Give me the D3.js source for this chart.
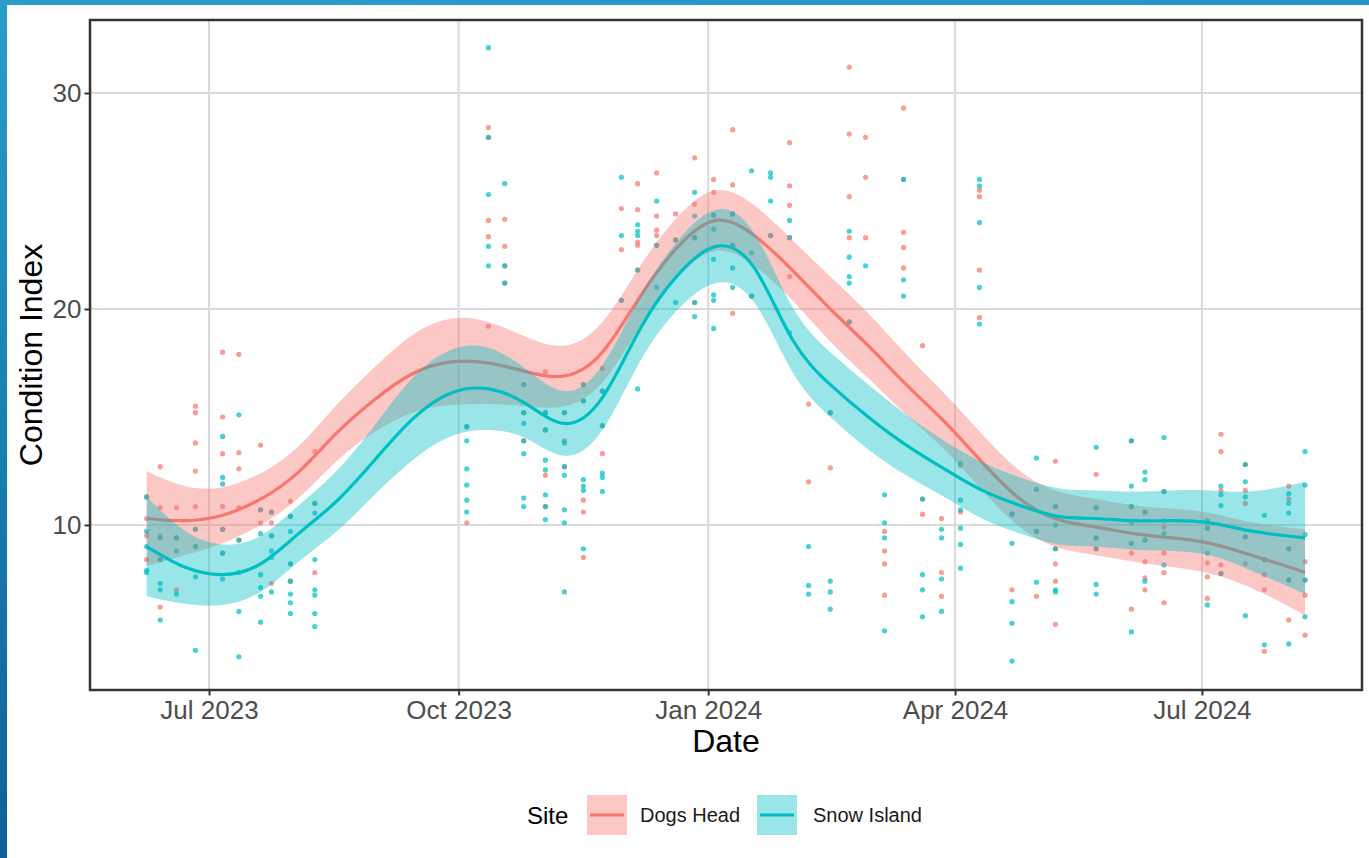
<!DOCTYPE html>
<html>
<head>
<meta charset="utf-8">
<script src="https://cdn.jsdelivr.net/npm/d3@7"></script>
<style>
  html, body { margin: 0; padding: 0; background: #fff; }
  svg { display: block; }
  text { font-family: "Liberation Sans", Arial, sans-serif; }
</style>
</head>
<body>
<svg id="chart" width="1369" height="858"></svg>
<script>
// ---- data -------------------------------------------------------------
const siteNames  = ["Dogs Head", "Snow Island"];
const siteColors = ["#F8766D", "#00BFC4"];

// sampling dates (one column of points per date)
const sampleDates = [
  "2023-06-08","2023-06-13","2023-06-19","2023-06-26","2023-07-06","2023-07-12",
  "2023-07-20","2023-07-24","2023-07-31","2023-08-09",
  "2023-10-04","2023-10-12","2023-10-18","2023-10-25","2023-11-02","2023-11-09",
  "2023-11-16","2023-11-23","2023-11-30","2023-12-06","2023-12-13","2023-12-20",
  "2023-12-27","2024-01-03","2024-01-10","2024-01-17","2024-01-24","2024-01-31",
  "2024-02-07","2024-02-15","2024-02-22","2024-02-28","2024-03-06","2024-03-13",
  "2024-03-20","2024-03-27","2024-04-03","2024-04-10","2024-04-22","2024-05-01",
  "2024-05-08","2024-05-23","2024-06-05","2024-06-10","2024-06-17","2024-07-03",
  "2024-07-08","2024-07-17","2024-07-24","2024-08-02","2024-08-08"
];

// condition index per sampling date, Dogs Head
const dogsHead = [
  [11.3,10.3,9.5,8.4], [12.7,10.8,9.5,8.4,6.2], [10.8,9.4,7.0],
  [15.5,15.2,13.8,12.5,10.85,9.8,9.0], [18.0,15.0,13.3,10.85,9.8,8.7],
  [17.9,13.35,12.6,10.8,9.3], [13.7,10.7,10.1], [10.6,10.1,9.5,7.3],
  [11.1,10.4,8.2,7.4], [13.4,11.0,7.8],
  [14.55,10.1], [28.4,27.95,24.1,23.35,19.2], [24.15,22.9,22.0,21.2],
  [16.5,15.2,13.9], [17.1,15.2,14.4,12.3,10.85], [15.2,13.9,12.7],
  [16.5,15.75,11.15,10.6,8.5], [17.25,16.2,14.6,13.3], [24.65,22.75,20.4],
  [25.8,24.6,23.1,22.95,21.8], [26.3,24.3,23.65,23.4,22.95], [24.4,23.2],
  [27.0,24.85,23.3,20.3], [26.0,25.4,24.35], [28.3,25.75,24.4,22.95,19.8],
  [20.6], [23.4], [27.7,25.7,24.8,23.3,21.5],
  [15.6,12.0], [15.2,12.65], [31.2,28.1,25.2,23.3,19.4], [27.95,26.1,23.3],
  [9.7,8.8,8.2,6.75], [29.3,26.0,23.55,22.85,21.9], [18.3,11.2,10.5],
  [10.3,7.8,6.7], [12.75,10.6], [25.5,25.2,21.8,19.6], [10.5,7.0],
  [11.65,9.7,6.7], [12.95,10.85,8.9,8.2,7.4,5.4], [12.35,10.8,9.4,8.9],
  [13.9,10.85,9.15,8.7,6.1], [10.6,9.3,8.3,7.55,7.0], [11.55,9.9,8.7,7.8,6.4],
  [9.85,8.25,7.6,6.6], [14.2,13.4,11.6,8.15,7.75], [12.8,11.6,11.0,9.45,8.2],
  [8.4,7.7,7.0,4.15], [11.8,11.2,8.9,7.45,5.6], [8.3,7.45,6.75,4.9]
];

// condition index per sampling date, Snow Island
const snowIsland = [
  [11.3,9.7,9.0,7.9,7.8], [9.4,8.4,7.3,7.0,5.6], [9.4,8.8,6.8],
  [9.8,9.0,7.6,4.2], [14.1,12.2,11.9,9.8,8.7,7.5],
  [15.1,9.3,7.8,6.0,3.9], [10.7,9.6,7.7,7.1,6.7,5.5], [10.6,9.5,8.8,8.5,6.9],
  [10.4,9.7,8.2,7.4,6.8,6.4,5.9], [11.0,10.55,8.4,7.0,6.75,5.9,5.3],
  [14.55,13.9,12.6,11.85,11.15,10.6], [32.1,27.95,25.3,22.9,22.0], [25.8,22.0,21.2],
  [16.5,15.2,14.7,13.9,13.3,11.25,10.85], [15.2,14.4,13.0,12.55,11.4,10.85,10.25],
  [15.2,13.8,12.7,12.3,10.7,10.1,6.9],
  [16.5,15.75,12.1,11.8,11.6,8.9], [16.2,14.6,12.4,12.2,11.55], [26.1,23.4,20.4],
  [23.9,23.6,23.4,21.8,16.3], [25.0,22.95,21.0], [23.2,20.3],
  [25.4,24.3,23.3,20.3,19.65], [24.35,23.7,22.3,20.65,20.4,19.1], [24.4,22.95,21.9,21.0],
  [26.4,22.6,20.6], [26.3,26.1,25.0,23.4], [24.1,23.3,18.9],
  [9.0,7.2,6.8], [15.2,7.4,6.9,6.1], [23.6,22.4,21.5,21.2,19.4], [22.0],
  [11.4,10.1,9.4,5.1], [26.0,21.35,20.6], [11.2,7.7,7.0,5.75],
  [9.8,9.4,7.5,6.0], [12.85,11.15,10.7,9.85,9.1,8.0], [26.0,25.7,24.0,21.0,19.3],
  [10.5,9.15,6.45,5.45,3.7],
  [13.1,11.65,9.7,7.35], [10.85,10.0,8.9,7.0,6.9], [13.6,10.8,9.4,8.9,7.25,6.8],
  [13.9,11.8,10.85,10.1,9.15,5.05], [12.45,12.1,10.6,9.3,7.4], [14.05,11.55,10.2,9.6,8.15],
  [10.2,9.85,8.7,6.3], [11.8,11.4,10.9,7.75], [12.8,12.0,11.3,9.45,5.8],
  [10.45,8.4,4.45], [11.45,11.0,10.55,8.9,7.45,4.5], [13.4,11.85,9.55,7.45,5.75]
];

// loess fits and confidence half-widths, sampled along the date axis
const smoothDates = [
  "2023-06-08","2023-06-22","2023-07-06","2023-07-20","2023-08-03","2023-08-17",
  "2023-08-31","2023-09-14","2023-09-28","2023-10-12","2023-10-26","2023-11-09",
  "2023-11-23","2023-12-07","2023-12-21","2024-01-04","2024-01-18","2024-02-01",
  "2024-02-15","2024-02-29","2024-03-14","2024-03-28","2024-04-11","2024-04-25",
  "2024-05-09","2024-05-23","2024-06-06","2024-06-20","2024-07-04","2024-07-18",
  "2024-08-01","2024-08-08"
];
const dogsFit = [
  10.3,10.2,10.45,11.2,12.45,14.25,15.8,17.0,17.55,17.5,17.1,16.9,
  18.0,20.6,22.9,24.1,23.4,21.8,20.0,18.3,16.5,14.8,12.9,11.2,
  10.25,9.9,9.6,9.4,9.15,8.65,8.1,7.8
];
const dogsBand = [
  2.2,1.6,1.3,1.2,1.2,1.3,1.5,1.8,2.0,1.9,1.6,1.4,
  1.4,1.4,1.4,1.4,1.4,1.4,1.5,1.5,1.4,1.3,1.3,1.3,
  1.3,1.3,1.3,1.35,1.4,1.5,1.8,2.0
];
const snowFit = [
  9.0,8.05,7.7,8.2,9.6,11.1,13.0,14.9,16.1,16.3,15.6,14.7,
  15.9,19.1,21.6,22.9,21.9,18.6,16.5,15.0,13.7,12.6,11.6,10.9,
  10.4,10.3,10.2,10.2,10.1,9.75,9.5,9.4
];
const snowBand = [
  2.3,1.7,1.4,1.3,1.3,1.4,1.6,1.9,2.0,1.9,1.6,1.5,
  1.5,1.5,1.6,1.7,1.6,1.5,1.5,1.5,1.4,1.3,1.3,1.3,
  1.3,1.3,1.35,1.4,1.5,1.8,2.3,2.6
];

// axis ticks
const yTicks = [10, 20, 30];
const xTickDates = ["2023-07-01","2023-10-01","2024-01-01","2024-04-01","2024-07-01"];
const xDomain = ["2023-05-18T03:00:00Z", "2024-08-29T00:00:00Z"];
const yDomain = [2.36, 33.38];

// ---- layout -----------------------------------------------------------
const W = 1369, H = 858;
const panel = { left: 90, top: 20, right: 1362, bottom: 690 };
const parse = s => new Date(s.length > 10 ? s : s + "T00:00:00Z");

const svg = d3.select("#chart");

// slide frame behind the figure
const defs = svg.append("defs");
const grad = defs.append("linearGradient").attr("id", "frame")
  .attr("x1", 0).attr("y1", 0).attr("x2", 0.15).attr("y2", 1);
grad.append("stop").attr("offset", "0%").attr("stop-color", "#2a9dc9");
grad.append("stop").attr("offset", "45%").attr("stop-color", "#1a82b5");
grad.append("stop").attr("offset", "100%").attr("stop-color", "#0f5f98");
svg.append("rect").attr("width", W).attr("height", H).attr("fill", "url(#frame)");
svg.append("rect").attr("x", 7).attr("y", 5).attr("width", W - 7).attr("height", H - 5)
  .attr("fill", "#ffffff");

const x = d3.scaleUtc().domain(xDomain.map(parse)).range([panel.left, panel.right]);
const y = d3.scaleLinear().domain(yDomain).range([panel.bottom, panel.top]);

const clip = defs.append("clipPath").attr("id", "panelClip");
clip.append("rect").attr("x", panel.left).attr("y", panel.top)
  .attr("width", panel.right - panel.left).attr("height", panel.bottom - panel.top);

// grid
const grid = svg.append("g").attr("stroke", "#dadada").attr("stroke-width", 2);
yTicks.forEach(v => grid.append("line")
  .attr("x1", panel.left).attr("x2", panel.right).attr("y1", y(v)).attr("y2", y(v)));
xTickDates.forEach(d => grid.append("line")
  .attr("x1", x(parse(d))).attr("x2", x(parse(d))).attr("y1", panel.top).attr("y2", panel.bottom));

// points
const plot = svg.append("g").attr("clip-path", "url(#panelClip)");
[dogsHead, snowIsland].forEach((series, si) => {
  const pts = [];
  series.forEach((vals, i) => vals.forEach(v => pts.push({ d: parse(sampleDates[i]), v })));
  plot.append("g").selectAll("circle").data(pts).join("circle")
    .attr("cx", p => x(p.d)).attr("cy", p => y(p.v)).attr("r", 2.6)
    .attr("fill", siteColors[si]).attr("fill-opacity", 0.72);
});

// smooths: ribbon then line, one site at a time
const fits = [[dogsFit, dogsBand], [snowFit, snowBand]];
fits.forEach(([fit, band], si) => {
  const rows = smoothDates.map((d, i) => ({ d: parse(d), f: fit[i], b: band[i] }));
  const area = d3.area().curve(d3.curveNatural)
    .x(r => x(r.d)).y0(r => y(r.f - r.b)).y1(r => y(r.f + r.b));
  const line = d3.line().curve(d3.curveNatural).x(r => x(r.d)).y(r => y(r.f));
  plot.append("path").datum(rows).attr("d", area)
    .attr("fill", siteColors[si]).attr("fill-opacity", 0.4);
  plot.append("path").datum(rows).attr("d", line)
    .attr("fill", "none").attr("stroke", siteColors[si]).attr("stroke-width", 3.2);
});

// panel border
svg.append("rect").attr("x", panel.left).attr("y", panel.top)
  .attr("width", panel.right - panel.left).attr("height", panel.bottom - panel.top)
  .attr("fill", "none").attr("stroke", "#333333").attr("stroke-width", 2.5);

// axes
const yAxis = d3.axisLeft(y).tickValues(yTicks).tickSize(5.5).tickPadding(3);
const gy = svg.append("g").attr("transform", `translate(${panel.left},0)`).call(yAxis);
const xAxis = d3.axisBottom(x).tickValues(xTickDates.map(parse))
  .tickFormat(d3.utcFormat("%b %Y")).tickSize(5.5).tickPadding(5);
const gx = svg.append("g").attr("transform", `translate(0,${panel.bottom})`).call(xAxis);
[gx, gy].forEach(g => {
  g.select(".domain").remove();
  g.selectAll(".tick line").attr("stroke", "#333333").attr("stroke-width", 2);
  g.selectAll(".tick text").attr("fill", "#4d4d4d").attr("font-size", 26)
    .attr("font-family", "Liberation Sans, Arial, sans-serif");
});

// axis titles
svg.append("text").attr("x", (panel.left + panel.right) / 2).attr("y", 752)
  .attr("text-anchor", "middle").attr("font-size", 32).attr("fill", "#000").text("Date");
svg.append("text").attr("transform", `translate(42,${(panel.top + panel.bottom) / 2}) rotate(-90)`)
  .attr("text-anchor", "middle").attr("font-size", 32).attr("fill", "#000").text("Condition Index");

// legend
const legend = svg.append("g");
legend.append("text").attr("x", 527).attr("y", 824).attr("font-size", 24)
  .attr("fill", "#000").text("Site");
const keyX = [587, 757], labelX = [640, 813];
siteNames.forEach((name, si) => {
  legend.append("rect").attr("x", keyX[si]).attr("y", 795).attr("width", 40).attr("height", 40)
    .attr("fill", siteColors[si]).attr("fill-opacity", 0.4);
  legend.append("line").attr("x1", keyX[si] + 3).attr("x2", keyX[si] + 37)
    .attr("y1", 815).attr("y2", 815).attr("stroke", siteColors[si]).attr("stroke-width", 3);
  legend.append("text").attr("x", labelX[si]).attr("y", 822).attr("font-size", 20)
    .attr("fill", "#1a1a1a").text(name);
});
</script>
</body>
</html>
